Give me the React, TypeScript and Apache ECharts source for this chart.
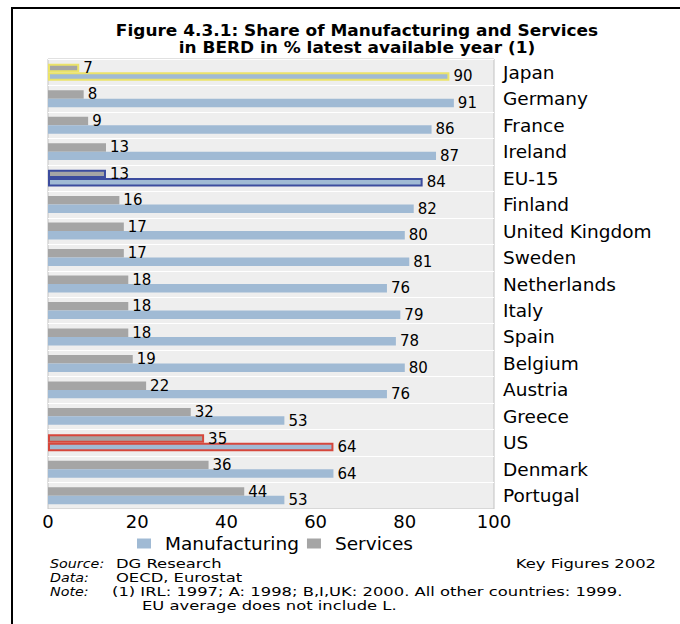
import React, { useEffect, useRef } from "react";
import * as echarts from "echarts";

const categories = [
  "Japan", "Germany", "France", "Ireland", "EU-15", "Finland", "United Kingdom", "Sweden",
  "Netherlands", "Italy", "Spain", "Belgium", "Austria", "Greece", "US", "Denmark", "Portugal",
];
const services = [7, 8, 9, 13, 13, 16, 17, 17, 18, 18, 18, 19, 22, 32, 35, 36, 44];
const manufacturing = [90, 91, 86, 87, 84, 82, 80, 81, 76, 79, 78, 80, 76, 53, 64, 64, 53];
const xTicks = [0, 20, 40, 60, 80, 100];
const highlighted: Record<string, string> = {
  Japan: "#ebe36a",
  "EU-15": "#3c4c9e",
  US: "#d6473c",
};

const FONT = "DejaVu Sans";
const BLUE = "#a0bad4";
const GRAY = "#a5a5a5";

export default function App() {
  const ref = useRef<HTMLDivElement>(null);
  useEffect(() => {
    if (!ref.current) return;
    const chart = echarts.init(ref.current, undefined, { renderer: "svg" });
    const mk = (vals: number[], color: string) =>
      vals.map((v, i) => {
        const hc = highlighted[categories[i]];
        return hc
          ? { value: v, itemStyle: { color, borderColor: hc, borderWidth: 2 } }
          : { value: v };
      });
    const labelCommon = {
      show: true,
      position: "right" as const,
      distance: 4,
      color: "#000",
      fontSize: 15,
      fontFamily: FONT,
    };
    const footer = (text: string, x: number, y: number, extra: any = {}) => ({
      type: "text",
      x,
      y,
      scaleX: extra.italic ? 1.1 : 1.26,
      style: {
        text,
        fill: "#000",
        font: `${extra.italic ? "italic " : ""}13px '${FONT}'`,
        textAlign: extra.align || "left",
        textVerticalAlign: "middle",
      },
    });
    chart.setOption({
      animation: false,
      backgroundColor: "#fff",
      grid: {
        left: 48,
        top: 59,
        width: 446,
        height: 450,
        show: true,
        backgroundColor: "#eeeeee",
        borderColor: "#c2c2c2",
        borderWidth: 1,
      },
      xAxis: {
        type: "value",
        min: xTicks[0],
        max: xTicks[xTicks.length - 1],
        interval: 20,
        axisLine: { show: false },
        axisTick: { show: false },
        splitLine: { show: false },
        axisLabel: { color: "#000", fontSize: 18, fontFamily: FONT, margin: 3 },
      },
      yAxis: {
        type: "category",
        data: categories,
        inverse: true,
        position: "right",
        axisLine: { show: false },
        axisTick: { show: false },
        splitLine: { show: true, lineStyle: { color: "#ffffff", width: 1 } },
        axisLabel: {
          color: "#000",
          fontSize: 18.5,
          fontFamily: FONT,
          margin: 9,
          align: "left",
          padding: [0, 0, 4, 0],
        },
      },
      legend: {
        data: ["Manufacturing", "Services"],
        left: 132,
        top: 529,
        icon: "rect",
        itemWidth: 14,
        itemHeight: 10,
        itemGap: 8,
        textStyle: { color: "#000", fontSize: 18.5, fontFamily: FONT, padding: [0, 0, 0, 9] },
      },
      series: [
        {
          name: "Services",
          type: "bar",
          data: mk(services, GRAY),
          itemStyle: { color: GRAY },
          barCategoryGap: "36%",
          barGap: "0%",
          label: labelCommon,
        },
        {
          name: "Manufacturing",
          type: "bar",
          data: mk(manufacturing, BLUE),
          itemStyle: { color: BLUE },
          barCategoryGap: "36%",
          barGap: "0%",
          label: labelCommon,
        },
      ],
      graphic: [
        {
          type: "rect",
          shape: { x: 12, y: 8, width: 800, height: 800 },
          style: { fill: "none", stroke: "#000", lineWidth: 2 },
          silent: true,
        },
        {
          type: "text",
          x: 357,
          y: 39,
          scaleX: 1.06,
          style: {
            text: "Figure 4.3.1: Share of Manufacturing and Services\nin BERD in % latest available year (1)",
            fill: "#000",
            font: `bold 16px '${FONT}'`,
            lineHeight: 17,
            textAlign: "center",
            textVerticalAlign: "middle",
          },
        },
        footer("Source:", 50, 563, { italic: true }),
        footer("DG Research", 116, 563),
        footer("Key Figures 2002", 656, 563, { align: "right" }),
        footer("Data:", 50, 577, { italic: true }),
        footer("OECD, Eurostat", 116, 577),
        footer("Note:", 50, 591, { italic: true }),
        footer("(1) IRL: 1997; A: 1998; B,I,UK: 2000. All other countries: 1999.", 112, 591),
        footer("EU average does not include L.", 142, 605),
      ],
    });
    return () => chart.dispose();
  }, []);
  return (
    <div
      ref={ref}
      style={{ position: "fixed", left: 0, top: 0, width: 680, height: 624 }}
    />
  );
}
